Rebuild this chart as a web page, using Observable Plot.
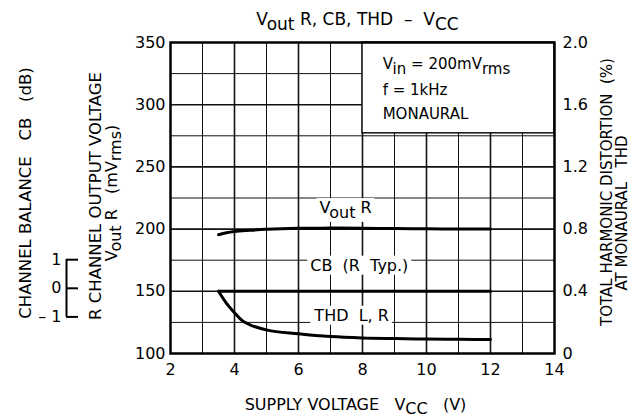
<!DOCTYPE html>
<html>
<head>
<meta charset="utf-8">
<script src="https://cdn.jsdelivr.net/npm/d3@7"></script>
<script src="https://cdn.jsdelivr.net/npm/@observablehq/plot@0.6"></script>
<style>
  html, body { margin: 0; padding: 0; background: white; }
</style>
</head>
<body>
<div id="chart"></div>
<script>
// ---- data ----
const vccTicks = [2, 4, 6, 8, 10, 12, 14];
const voutTicks = [100, 150, 200, 250, 300, 350];
const thdTicks = [0, 0.4, 0.8, 1.2, 1.6, 2.0];
const thdTickLabels = ["0", "0.4", "0.8", "1.2", "1.6", "2.0"];
const cbTicks = [1, 0, -1];
const cbTickLabels = ["1", "0", "\u2013\u00a01"];

const voutVcc = [3.5, 3.75, 4, 4.5, 5, 6, 7, 8, 9, 10, 11, 12];
const voutValues = [195.5, 197, 198, 199, 199.8, 200.6, 200.8, 200.6, 200.4, 200.2, 200.1, 200];

const cbVcc = [3.5, 12];
const cbValues = [0, 0];

const thdVcc = [3.5, 3.75, 4, 4.25, 4.5, 5, 6, 7, 8, 9, 10, 11, 12];
const thdValues = [0.4, 0.322, 0.262, 0.21, 0.183, 0.152, 0.127, 0.109, 0.1, 0.096, 0.093, 0.091, 0.09];

// secondary scales mapped onto the main (Vout) y scale
const thdToY = v => 100 + v * 125;   // 0..2.0 % -> 100..350
const cbToY = d => 150 + d * 23;     // dB -> Vout units

const voutData = voutVcc.map((x, i) => ({x, y: voutValues[i]}));
const cbData = cbVcc.map((x, i) => ({x, y: cbToY(cbValues[i])}));
const thdData = thdVcc.map((x, i) => ({x, y: thdToY(thdValues[i])}));

const gridX = d3.range(3, 14, 1);
const gridY = d3.range(125, 350, 25);

const NB = "\u00a0";

const plot = Plot.plot({
  width: 634,
  height: 419,
  marginLeft: 170,
  marginRight: 80,
  marginTop: 42,
  marginBottom: 66,
  style: {fontFamily: "DejaVu Sans", fontSize: "16px", background: "white", color: "black"},
  x: {domain: [2, 14]},
  y: {domain: [100, 350]},
  marks: [
    Plot.ruleX(gridX, {stroke: "#111", strokeWidth: d => d % 2 === 0 ? 1.6 : 1}),
    Plot.ruleY(gridY, {stroke: "#111", strokeWidth: d => d % 50 === 0 ? 1.6 : 1}),
    // condition box
    Plot.rect([0], {x1: 8, x2: 14, y1: 277, y2: 350, fill: "white", stroke: "#111", strokeWidth: 1.5}),
    Plot.text([`V_{in}${NB}=${NB}200mV_{rms}`, `f${NB}=${NB}1kHz`, "MONAURAL"], {
      x: 8.63, y: [332.5, 311.5, 292], textAnchor: "start", fontSize: 15
    }),
    // curves
    Plot.line(voutData, {x: "x", y: "y", stroke: "black", strokeWidth: 3, curve: "monotone-x"}),
    Plot.line(cbData, {x: "x", y: "y", stroke: "black", strokeWidth: 3}),
    Plot.line(thdData, {x: "x", y: "y", stroke: "black", strokeWidth: 3, curve: "monotone-x"}),
    // curve labels (white boxes added below)
    Plot.text([`V_{out} R`, `CB${NB}${NB}(R${NB}${NB}Typ.)`, `THD${NB}${NB}L,${NB}R`], {
      x: [7.47, 7.9, 7.66], y: [217, 170.7, 130.5],
      fill: "black", fontSize: 16, className: "boxed"
    }),
    Plot.frame({stroke: "black", strokeWidth: 2.5}),
    // axes
    Plot.axisX(vccTicks, {tickSize: 0, tickPadding: 10, label: null, fontSize: 16}),
    Plot.axisY(voutTicks, {tickSize: 0, tickPadding: 5, label: null, fontSize: 16}),
    Plot.text(thdTicks, {frameAnchor: "right", y: thdToY, text: (d, i) => thdTickLabels[i], textAnchor: "start", dx: 8, fontSize: 16}),
    // channel balance scale
    Plot.ruleX([0], {x: 2, y1: cbToY(-1), y2: cbToY(1), dx: -104, dy: -3, stroke: "black", strokeWidth: 2}),
    Plot.ruleY(cbTicks, {y: cbToY, x1: 2, x2: 2 + 12 / 32, dx: -104, dy: -3, stroke: "black", strokeWidth: 2}),
    Plot.text(cbTicks, {x: 2, y: cbToY, text: (d, i) => cbTickLabels[i], textAnchor: "end", dx: -109, dy: -3, fontSize: 16}),
    // titles
    Plot.text([`V_{out} R,${NB}CB,${NB}THD${NB}${NB}\u2013${NB}${NB}V_{CC}`], {frameAnchor: "top", lineAnchor: "middle", textAnchor: "middle", dy: -23, dx: -5, fontSize: 17}),
    Plot.text([`SUPPLY${NB}VOLTAGE${NB}${NB}${NB}V_{CC}${NB}${NB}${NB}(V)`], {frameAnchor: "bottom", lineAnchor: "middle", textAnchor: "middle", dy: 51, dx: -7, fontSize: 16, className: "xlabel"}),
    Plot.text([`CHANNEL${NB}BALANCE${NB}${NB}${NB}CB${NB}${NB}${NB}(dB)`], {frameAnchor: "left", textAnchor: "middle", lineAnchor: "middle", dx: -145, dy: -5, rotate: -90, fontSize: 16.5}),
    Plot.text([`R${NB}CHANNEL${NB}OUTPUT${NB}VOLTAGE`], {frameAnchor: "left", textAnchor: "middle", lineAnchor: "middle", dx: -75, dy: -2, rotate: -90, fontSize: 16.5}),
    Plot.text([`V_{out} R${NB}${NB}${NB}(mV_{rms})`], {frameAnchor: "left", textAnchor: "middle", lineAnchor: "middle", dx: -59, dy: -5, rotate: -90, fontSize: 16}),
    Plot.text([`TOTAL${NB}HARMONIC${NB}DISTORTION${NB}${NB}(%)`], {frameAnchor: "right", textAnchor: "middle", lineAnchor: "middle", dx: 53, dy: -6, rotate: -90, fontSize: 15}),
    Plot.text([`AT${NB}MONAURAL${NB}${NB}${NB}THD`], {frameAnchor: "right", textAnchor: "middle", lineAnchor: "middle", dx: 68, dy: 15, rotate: -90, fontSize: 15})
  ]
});

// subscripts: turn "_{...}" into lowered tspans
d3.select(plot).selectAll("text").each(function () {
  const t = this.textContent;
  if (!t.includes("_{")) return;
  const sel = d3.select(this);
  sel.text(null);
  const parts = t.split(/(_\{[^}]*\})/);
  let lowered = false;
  for (const p of parts) {
    if (!p) continue;
    if (p.startsWith("_{")) {
      sel.append("tspan").attr("dy", "0.3em").text(p.slice(2, -1));
      lowered = true;
    } else {
      const ts = sel.append("tspan").text(p);
      if (lowered) { ts.attr("dy", "-0.3em"); lowered = false; }
    }
  }
});

document.getElementById("chart").appendChild(plot);

// white boxes behind the in-plot curve labels
d3.select(plot).selectAll("g.boxed text").each(function () {
  const b = this.getBBox();
  const pad = 3;
  const r = document.createElementNS("http://www.w3.org/2000/svg", "rect");
  r.setAttribute("x", b.x - pad);
  r.setAttribute("y", b.y);
  r.setAttribute("width", b.width + 2 * pad);
  r.setAttribute("height", b.height);
  r.setAttribute("fill", "white");
  const tr = this.getAttribute("transform");
  if (tr) r.setAttribute("transform", tr);
  this.parentNode.insertBefore(r, this);
});
</script>
</body>
</html>
